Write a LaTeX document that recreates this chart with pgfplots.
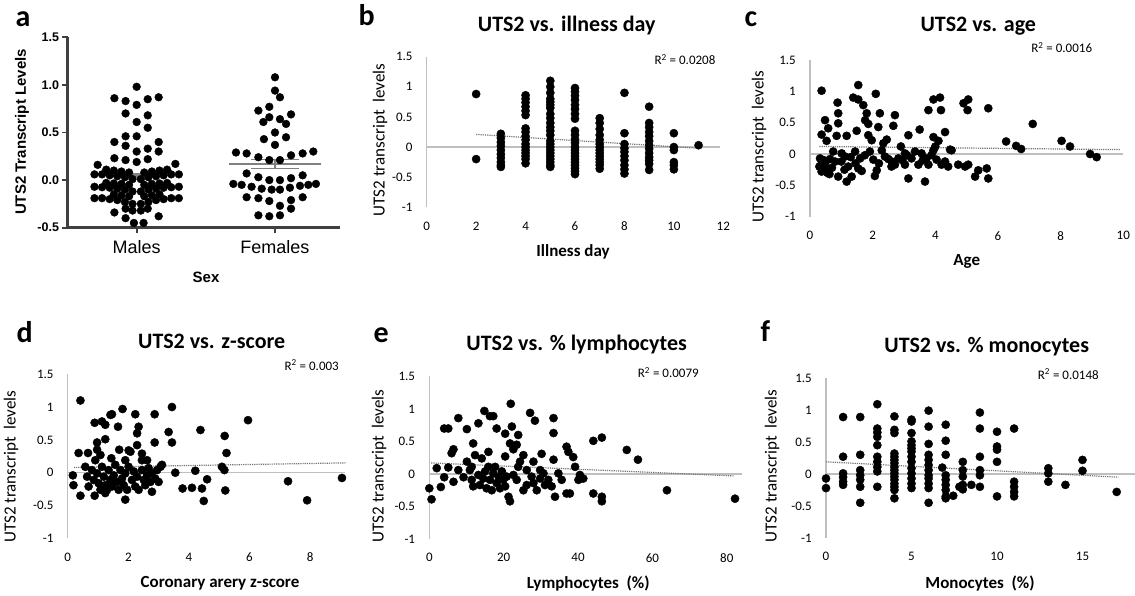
\documentclass[border=0pt]{standalone}
\usepackage{pgfplots}
\pgfplotsset{compat=1.18}
\usepackage{fontspec}
\setmainfont{Carlito}
\newfontfamily\arial{Liberation Sans}
\pgfplotsset{
  exstyle/.style={
    scale only axis, clip=false, anchor=south west,
    axis line style={draw=none},
    major tick length=0pt,
    ymin=-1, ymax=1.5,
    ytick={-1,-0.5,0,0.5,1,1.5},
    yticklabels={-1,-0.5,0,0.5,1,1.5},
    tick label style={font=\fontsize{13}{13}\selectfont, text=black},
    xticklabel style={yshift=-11pt},
    yticklabel style={xshift=-10.7pt},
  },
  dots/.style={only marks, mark=*, mark size=4.1pt, draw=black, fill=black},
  zline/.style={draw=black!25, line width=1.3pt, no marks},
  trend/.style={draw=black!55, densely dotted, line width=1.2pt, no marks},
}
\newcommand\ttl{\bfseries\fontsize{22}{22}\selectfont}
\newcommand\lab{\fontsize{17}{17}\selectfont}
\newcommand\blab{\bfseries\fontsize{17}{17}\selectfont}
\newcommand\rsq{\fontsize{13}{13}\selectfont}
\newcommand\pl{\bfseries\fontsize{30}{30}\selectfont}
\begin{document}
\begin{tikzpicture}[x=1pt,y=1pt]
\path[use as bounding box] (0,0) rectangle (1135,596);

% ---------------- panel a
\begin{axis}[scale only axis, clip=false, at={(67.5pt,368.3pt)}, anchor=south west,
  width=272.5pt, height=190.4pt, xmin=0.5, xmax=2.47, ymin=-0.5, ymax=1.5,
  axis x line*=bottom, axis y line*=left,
  axis line style={line width=2.4pt, draw=black!75, -},
  xtick={1,2}, xticklabels={Males,Females},
  ytick={-0.5,0,0.5,1,1.5}, yticklabels={-0.5,0.0,0.5,1.0,1.5},
  tick align=outside, major tick length=5pt,
  tick style={line width=1.8pt, draw=black!75},
  xticklabel style={font=\arial\fontsize{18}{18}\selectfont, yshift=-4pt},
  yticklabel style={font=\arial\bfseries\fontsize{12.5}{12.5}\selectfont}]
\addplot[only marks, mark=*, mark size=3.9pt, draw=black, fill=black] coordinates {
(1.0,0.98) (0.839,0.86) (0.92,0.83) (1.0,0.79) (1.08,0.85) (1.159,0.87)
(0.92,0.70) (1.08,0.68) (1.0,0.61) (1.08,0.55)
(0.92,0.46) (1.0,0.46) (0.839,0.40) (1.159,0.40) (0.92,0.36) (1.08,0.33) (1.0,0.30) (1.159,0.30)
(0.839,0.23) (0.92,0.21) (1.0,0.19) (1.08,0.22) (1.28,0.17) (0.718,0.16)
(0.695,0.06) (0.75,0.06) (0.805,0.05) (0.86,0.04) (0.915,0.03) (0.97,0.01) (1.03,0.01) (1.085,0.03) (1.14,0.04) (1.195,0.05) (1.25,0.06) (1.305,0.06)
(0.78,0.11) (0.835,0.10) (0.89,0.09) (0.945,0.08) (1.055,0.08) (1.11,0.09) (1.165,0.10) (1.22,0.11)
(0.695,-0.07) (0.75,-0.075) (0.805,-0.08) (0.86,-0.09) (0.915,-0.10) (0.97,-0.12) (1.03,-0.12) (1.085,-0.10) (1.14,-0.09) (1.195,-0.08) (1.25,-0.075) (1.305,-0.07)
(0.78,-0.03) (0.835,-0.035) (0.89,-0.04) (0.945,-0.05) (1.055,-0.05) (1.11,-0.04) (1.165,-0.035) (1.22,-0.03)
(0.695,-0.19) (0.75,-0.19) (0.805,-0.20) (0.86,-0.21) (0.915,-0.23) (0.97,-0.25) (1.03,-0.25) (1.085,-0.23) (1.14,-0.21) (1.195,-0.20) (1.25,-0.19) (1.305,-0.19)
(0.835,-0.15) (0.89,-0.16) (0.945,-0.17) (1.055,-0.17) (1.11,-0.16) (1.165,-0.15)
(0.92,-0.30) (0.97,-0.32) (1.03,-0.32) (1.08,-0.30)
(0.839,-0.34) (0.92,-0.40) (0.98,-0.45) (1.05,-0.45) (1.159,-0.38)
(2.0,1.08) (2.0,0.94) (2.036,0.87) (1.88,0.73) (1.959,0.77) (2.116,0.69) (1.916,0.61) (2.036,0.64) (2.08,0.59)
(2.0,0.50) (1.92,0.43) (2.08,0.45) (2.0,0.37) (1.959,0.66)
(1.718,0.29) (1.795,0.28) (1.88,0.24) (1.959,0.21) (2.036,0.21) (2.116,0.26) (2.2,0.28) (2.277,0.30)
(1.795,0.07) (1.88,0.03) (1.959,0.0) (2.036,0.0) (2.116,0.02) (2.2,0.05)
(1.699,-0.04) (1.759,-0.05) (1.831,-0.07) (1.904,-0.09) (1.976,-0.10) (2.036,-0.10) (2.108,-0.08) (2.181,-0.06) (2.241,-0.05) (2.296,-0.04)
(1.795,-0.18) (1.88,-0.19) (1.959,-0.22) (2.116,-0.21) (2.2,-0.18)
(2.036,-0.27) (2.116,-0.30) (1.88,-0.37) (1.959,-0.38) (2.036,-0.37)
};
\addplot[no marks, draw=black!50, line width=1.6pt] coordinates {(0.83,0.045) (1.17,0.045)};
\addplot[no marks, draw=black!50, line width=1.3pt] coordinates {(1,0.025) (1,0.065)};
\addplot[no marks, draw=black!50, line width=1.3pt] coordinates {(0.92,0.065) (1.08,0.065)};
\addplot[no marks, draw=black!50, line width=1.3pt] coordinates {(0.92,0.025) (1.08,0.025)};
\addplot[no marks, draw=black!50, line width=1.6pt] coordinates {(1.67,0.17) (2.33,0.17)};
\addplot[no marks, draw=black!50, line width=1.3pt] coordinates {(2,0.12) (2,0.215)};
\addplot[no marks, draw=black!50, line width=1.3pt] coordinates {(1.83,0.215) (2.17,0.215)};
\addplot[no marks, draw=black!50, line width=1.3pt] coordinates {(1.83,0.12) (2.17,0.12)};
\end{axis}
\node[rotate=90, font=\arial\bfseries\fontsize{15}{15}\selectfont] at (22,464) {UTS2 Transcript Levels};
\node[font=\arial\bfseries\fontsize{15}{15}\selectfont] at (206,319) {Sex};
\node[anchor=base west, font=\pl] at (12,569) {a};

% ---------------- panel b
\begin{axis}[exstyle, at={(426.7pt,388.7pt)}, width=296.6pt, height=150.6pt,
  xmin=0, xmax=12, xtick={0,2,4,6,8,10,12}, xticklabels={0,2,4,6,8,10,12}]
\addplot[zline] coordinates {(0,-1) (0,1.5)};
\addplot[zline] coordinates {(0,0) (11.85,0)};
\addplot[trend] coordinates {(2,0.21) (11,-0.02)};
\addplot[dots] coordinates {
(2,0.88) (2,-0.20)
(3,0.22) (3,0.15) (3,0.08) (3,0.02) (3,-0.05) (3,-0.12) (3,-0.18) (3,-0.25) (3,-0.30) (3,-0.33)
(4,0.86) (4,0.80) (4,0.74) (4,0.67) (4,0.60) (4,0.53) (4,0.31) (4,0.25) (4,0.18) (4,0.12) (4,0.05) (4,0.0) (4,-0.05) (4,-0.10) (4,-0.15) (4,-0.20) (4,-0.27)
(5,1.10) (5,1.0) (5,0.9) (5,0.8) (5,0.75) (5,0.7) (5,0.65) (5,0.55) (5,0.48) (5,0.4) (5,0.33) (5,0.27) (5,0.2) (5,0.1) (5,0.05) (5,0.0) (5,-0.05) (5,-0.1) (5,-0.15) (5,-0.2) (5,-0.25) (5,-0.3) (5,-0.33)
(6,0.98) (6,0.92) (6,0.85) (6,0.78) (6,0.70) (6,0.63) (6,0.55) (6,0.47) (6,0.27) (6,0.20) (6,0.13) (6,0.07) (6,0.0) (6,-0.05) (6,-0.10) (6,-0.15) (6,-0.20) (6,-0.25) (6,-0.30) (6,-0.35) (6,-0.40) (6,-0.45)
(7,0.48) (7,0.40) (7,0.30) (7,0.20) (7,0.12) (7,0.05) (7,0.0) (7,-0.05) (7,-0.10) (7,-0.15) (7,-0.20) (7,-0.25) (7,-0.30) (7,-0.36)
(8,0.90) (8,0.23) (8,0.05) (8,-0.02) (8,-0.08) (8,-0.15) (8,-0.22) (8,-0.30) (8,-0.37) (8,-0.44)
(9,0.67) (9,0.40) (9,0.33) (9,0.25) (9,0.18) (9,0.10) (9,0.03) (9,-0.03) (9,-0.10) (9,-0.17) (9,-0.22) (9,-0.28) (9,-0.38)
(10,0.23) (10,0.0) (10,-0.05) (10,-0.25) (10,-0.30) (10,-0.37)
(11,0.03)
};
\end{axis}
\node[font=\ttl] at (566.7,570) {UTS2 vs. illness day};
\node[font=\rsq] at (685,536.7) {R\textsuperscript{2} = 0.0208};
\node[font=\blab] at (573,344.3) {Illness day};
\node[rotate=90, font=\lab] at (380,456) {UTS2 transcript \ levels};
\node[anchor=base west, font=\pl] at (355,570) {b};

% ---------------- panel c
\begin{axis}[exstyle, at={(810pt,379.3pt)}, width=313.3pt, height=156.7pt,
  xmin=0, xmax=10, xtick={0,2,4,6,8,10}, xticklabels={0,2,4,6,8,10}]
\addplot[zline] coordinates {(0,-1) (0,1.5)};
\addplot[zline] coordinates {(0,0) (10,0)};
\addplot[trend] coordinates {(0.3,0.12) (9.9,0.07)};
\addplot[dots] coordinates {
(0.37,1.01) (1.54,1.10) (2.1,0.96) (1.38,0.90) (1.54,0.87) (0.88,0.82) (1.7,0.78) (0.9,0.65) (1.81,0.65) (2.23,0.65) (2.71,0.62)
(0.48,0.54) (0.9,0.49) (1.76,0.54) (1.86,0.48) (0.58,0.41) (2.66,0.45) (2.18,0.43) (1.49,0.37) (3.5,0.39)
(0.37,0.31) (0.85,0.29) (1.17,0.29) (0.53,0.21) (1.86,0.30) (1.97,0.22) (2.45,0.23) (2.34,0.17) (3.14,0.30)
(4.31,0.35) (3.94,0.27) (4.1,0.21) (3.94,0.87) (4.15,0.90) (3.78,0.70) (4.18,0.70) (4.9,0.81) (5.05,0.87) (5.03,0.70) (5.69,0.73)
(7.11,0.48) (6.26,0.20) (6.58,0.13) (6.74,0.08) (8.03,0.21) (8.3,0.12) (8.94,0.0) (9.15,-0.05) (2.9,0.12) (4.47,0.07)
(0.32,-0.07) (0.48,-0.15) (0.43,-0.26) (0.37,-0.28) (0.64,-0.08) (0.48,-0.20) (0.80,-0.12) (0.90,-0.36) (1.17,-0.44) (1.33,-0.36)
(1.22,-0.20) (1.12,-0.04) (1.44,0.04) (1.60,-0.07) (1.54,-0.23) (1.65,-0.27) (1.91,0.04) (2.02,-0.09) (2.13,-0.26) (2.07,-0.35)
(2.39,-0.04) (2.61,-0.12) (2.71,-0.17) (2.82,-0.07) (3.03,-0.17) (3.14,-0.39) (3.24,-0.07) (3.46,-0.17) (3.56,0.01) (3.67,-0.44)
(3.78,-0.17) (3.88,-0.015) (3.94,0.06) (4.04,-0.09) (4.20,-0.17) (4.41,-0.20) (4.73,-0.17) (4.95,-0.20) (5.05,-0.17) (5.27,-0.36)
(5.37,-0.26) (5.64,-0.23) (5.69,-0.39) (0.74,0.04) (1.01,0.01) (2.29,0.06) (3.03,0.01) (3.35,0.04) (3.72,-0.07) (4.31,-0.12) (4.52,0.06)
(0.35,-0.18) (0.45,-0.10) (0.55,-0.30) (0.70,-0.22) (0.62,-0.32) (1.0,-0.12) (1.3,-0.05) (1.45,-0.15) (1.75,-0.02)
(2.2,-0.15) (2.5,-0.08) (2.6,-0.2) (2.95,-0.1) (3.1,-0.02) (3.6,-0.1) (4.0,0.12) (1.1,-0.25) (0.3,-0.2)
};
\end{axis}
\node[font=\ttl] at (978.3,570) {UTS2 vs. age};
\node[font=\rsq] at (1061.7,548.7) {R\textsuperscript{2} = 0.0016};
\node[font=\blab] at (966.7,334.3) {Age};
\node[rotate=90, font=\lab] at (759,449.3) {UTS2 transcript \ levels};
\node[anchor=base west, font=\pl] at (741,569) {c};

% ---------------- panel d
\begin{axis}[exstyle, at={(67.7pt,57.6pt)}, width=277.3pt, height=164.2pt,
  xmin=0, xmax=9.15, xtick={0,2,4,6,8}, xticklabels={0,2,4,6,8}]
\addplot[zline] coordinates {(0,-1) (0,1.5)};
\addplot[zline] coordinates {(0,0) (9.15,0)};
\addplot[trend] coordinates {(0.2,0.08) (9.2,0.15)};
\addplot[dots] coordinates {
(0.42,1.10) (3.44,1.0) (1.81,0.97) (1.41,0.88) (1.46,0.89) (2.23,0.89) (2.87,0.89) (0.89,0.76) (1.13,0.78) (1.24,0.73)
(1.66,0.70) (2.34,0.70) (2.29,0.60) (3.33,0.62) (4.38,0.65) (5.18,0.56) (5.95,0.80) (3.44,0.46) (2.87,0.46) (1.24,0.51)
(0.97,0.46) (2.29,0.42) (5.24,0.30) (0.36,0.30) (0.67,0.30) (1.70,0.35) (2.01,0.34) (2.07,0.32) (2.45,0.29) (1.44,0.22)
(2.62,0.19) (3.11,0.12) (5.09,0.09) (5.17,0.04) (3.55,0.0) (4.21,0.03) (0.17,-0.04) (0.19,-0.19) (0.42,-0.35) (0.89,-0.35)
(1.24,-0.31) (1.90,-0.41) (2.78,-0.29) (3.79,-0.24) (4.1,-0.23) (4.43,-0.24) (4.6,-0.10) (4.49,-0.43) (5.2,-0.27) (7.27,-0.13)
(7.9,-0.42) (9.05,-0.08)
(0.58,0.09) (0.64,-0.06) (0.69,-0.21) (0.80,0.04) (0.86,-0.11) (0.91,0.19) (0.97,-0.01) (1.02,-0.16) (1.08,-0.26) (1.13,0.09)
(1.19,-0.06) (1.24,-0.19) (1.30,-0.26) (1.35,0.04) (1.41,-0.11) (1.46,-0.21) (1.52,-0.04) (1.57,0.12) (1.63,-0.14) (1.68,-0.26)
(1.74,0.04) (1.79,-0.09) (1.85,-0.19) (1.90,-0.01) (1.96,-0.26) (2.01,0.09) (2.12,-0.11) (2.18,0.02) (2.23,-0.21) (2.29,-0.06)
(2.34,-0.26) (2.45,0.04) (2.51,-0.11) (2.56,-0.19) (2.62,-0.04) (2.67,0.07) (2.73,-0.14) (2.78,-0.01) (2.89,-0.09) (2.95,0.04)
(3.00,-0.14) (3.06,0.09) (1.08,0.27) (0.97,0.35) (1.90,0.19) (2.45,0.19)
};
\end{axis}
\node[font=\ttl] at (211.7,254.3) {UTS2 vs. z-score};
\node[font=\rsq] at (311.7,231) {R\textsuperscript{2} = 0.003};
\node[font=\blab] at (220,12.7) {Coronary arery z-score};
\node[rotate=90, font=\lab] at (11,129.3) {UTS2 transcript \ levels};
\node[anchor=base west, font=\pl] at (13,253) {d};

% ---------------- panel e
\begin{axis}[exstyle, at={(429.3pt,57pt)}, width=312.4pt, height=162.5pt,
  xmin=0, xmax=84, xtick={0,20,40,60,80}, xticklabels={0,20,40,60,80}]
\addplot[zline] coordinates {(0,-1) (0,1.5)};
\addplot[zline] coordinates {(0,0) (84,0)};
\addplot[trend] coordinates {(0.5,0.17) (82,-0.03)};
\addplot[dots] coordinates {
(21.9,1.08) (14.8,0.97) (16.3,0.89) (17.2,0.89) (7.8,0.86) (27.1,0.94) (28.4,0.82) (33.4,0.86) (4.0,0.70) (5.1,0.70)
(10.1,0.69) (13.2,0.78) (18.1,0.70) (20.4,0.62) (22.2,0.73) (23.9,0.60) (33.4,0.63) (44.1,0.51) (46.4,0.56) (6.5,0.38)
(6.0,0.32) (11.8,0.47) (15.9,0.34) (14.1,0.24) (12.3,0.29) (21.7,0.47) (23.5,0.45) (22.6,0.38) (20.4,0.27) (25.3,0.29)
(24.4,0.19) (23.9,0.11) (28.0,0.19) (30.2,0.31) (33.4,0.22) (36.9,0.42) (37.4,0.34) (38.7,0.26) (39.2,0.11) (53.1,0.37)
(56.1,0.22) (2.0,0.09) (5.1,0.10) (10.1,0.19) (7.8,0.06) (0.0,-0.22) (0.6,-0.39) (3.1,-0.20) (4.0,-0.05) (6.5,-0.12)
(9.2,-0.05) (63.9,-0.25) (82.2,-0.38)
(10.9,0.06) (11.4,-0.09) (11.8,-0.19) (13.2,-0.015) (13.6,-0.17) (14.5,-0.07) (15.0,0.04) (15.4,-0.22) (16.3,-0.09) (16.8,-0.25)
(17.2,0.01) (18.1,-0.14) (18.6,-0.04) (19.0,-0.22) (19.5,0.04) (19.9,-0.09) (20.4,-0.19) (21.3,-0.35) (21.7,-0.42) (20.8,-0.04)
(22.6,-0.015) (23.5,-0.09) (25.3,-0.25) (26.2,-0.17) (27.5,-0.04) (28.0,-0.14) (28.9,-0.25) (29.8,-0.07) (30.7,0.01) (31.1,-0.17)
(32.0,-0.09) (32.9,-0.19) (33.8,-0.35) (34.7,0.01) (35.6,-0.09) (36.9,-0.30) (37.8,-0.30) (40.1,-0.09) (41.4,-0.07) (44.1,-0.30)
(46.4,-0.35) (46.4,-0.42) (40.5,-0.015) (11.4,0.11) (15.9,0.11) (17.7,0.11) (26.2,0.06) (29.8,0.06)
};
\end{axis}
\node[font=\ttl] at (576.7,251) {UTS2 vs. \% lymphocytes};
\node[font=\rsq] at (668.3,223.3) {R\textsuperscript{2} = 0.0079};
\node[font=\blab] at (588.3,12.7) {Lymphocytes \ (\%)};
\node[rotate=90, font=\lab] at (379,130) {UTS2 transcript \ levels};
\node[anchor=base west, font=\pl] at (370,253) {e};

% ---------------- panel f
\begin{axis}[exstyle, at={(826pt,58pt)}, width=309pt, height=160pt,
  xmin=0, xmax=18.07, xtick={0,5,10,15}, xticklabels={0,5,10,15}]
\addplot[zline] coordinates {(0,-1) (0,1.5)};
\addplot[zline] coordinates {(0,0) (18.07,0)};
\addplot[trend] coordinates {(0,0.19) (17.1,-0.05)};
\addplot[dots] coordinates {
(0,-0.07) (0,-0.22)
(1,0.89) (1,0.27) (1,0.01) (1,-0.05) (1,-0.12) (1,-0.17)
(2,0.89) (2,0.30) (2,0.06) (2,-0.02) (2,-0.09) (2,-0.20) (2,-0.45)
(3,1.09) (3,0.71) (3,0.65) (3,0.58) (3,0.45) (3,0.27) (3,0.19) (3,0.11) (3,0.04) (3,-0.20)
(4,0.90) (4,0.69) (4,0.64) (4,0.32) (4,0.27) (4,0.22) (4,0.17) (4,0.11) (4,0.06) (4,0.01) (4,-0.04) (4,-0.09) (4,-0.15) (4,-0.20) (4,-0.25) (4,-0.38)
(5,0.85) (5,0.82) (5,0.64) (5,0.51) (5,0.45) (5,0.40) (5,0.35) (5,0.27) (5,0.19) (5,0.09) (5,0.01) (5,-0.07) (5,-0.15) (5,-0.22)
(6,0.99) (6,0.74) (6,0.47) (6,0.30) (6,0.22) (6,0.14) (6,0.06) (6,-0.02) (6,-0.07) (6,-0.15) (6,-0.22) (6,-0.45)
(7,0.77) (7,0.52) (7,0.30) (7,-0.02) (7,-0.09) (7,-0.17) (7,-0.25) (7,-0.35) (7,-0.38) (6.8,0.10)
(7.44,-0.34) (7.8,-0.20) (8.5,-0.17)
(8,0.19) (8,0.06) (8,-0.04) (8,-0.17) (8,-0.24)
(9,0.96) (9,0.71) (9,0.27) (9,0.06) (9,-0.02) (9,-0.20)
(10,0.66) (10,0.43) (10,0.38) (10,0.19) (10,-0.35)
(11,0.71) (11,-0.12) (11,-0.20) (11,-0.28) (11,-0.35)
(13,0.09) (13,0.01) (13,-0.12) (14,-0.17) (15,0.22) (15,0.05) (17,-0.28)
};
\end{axis}
\node[font=\ttl] at (986.7,249) {UTS2 vs. \% monocytes};
\node[font=\rsq] at (1068.3,222) {R\textsuperscript{2} = 0.0148};
\node[font=\blab] at (980,12.7) {Monocytes \ (\%)};
\node[rotate=90, font=\lab] at (772,130) {UTS2 transcript \ levels};
\node[anchor=base west, font=\pl] at (757,254) {f};
\end{tikzpicture}
\end{document}
